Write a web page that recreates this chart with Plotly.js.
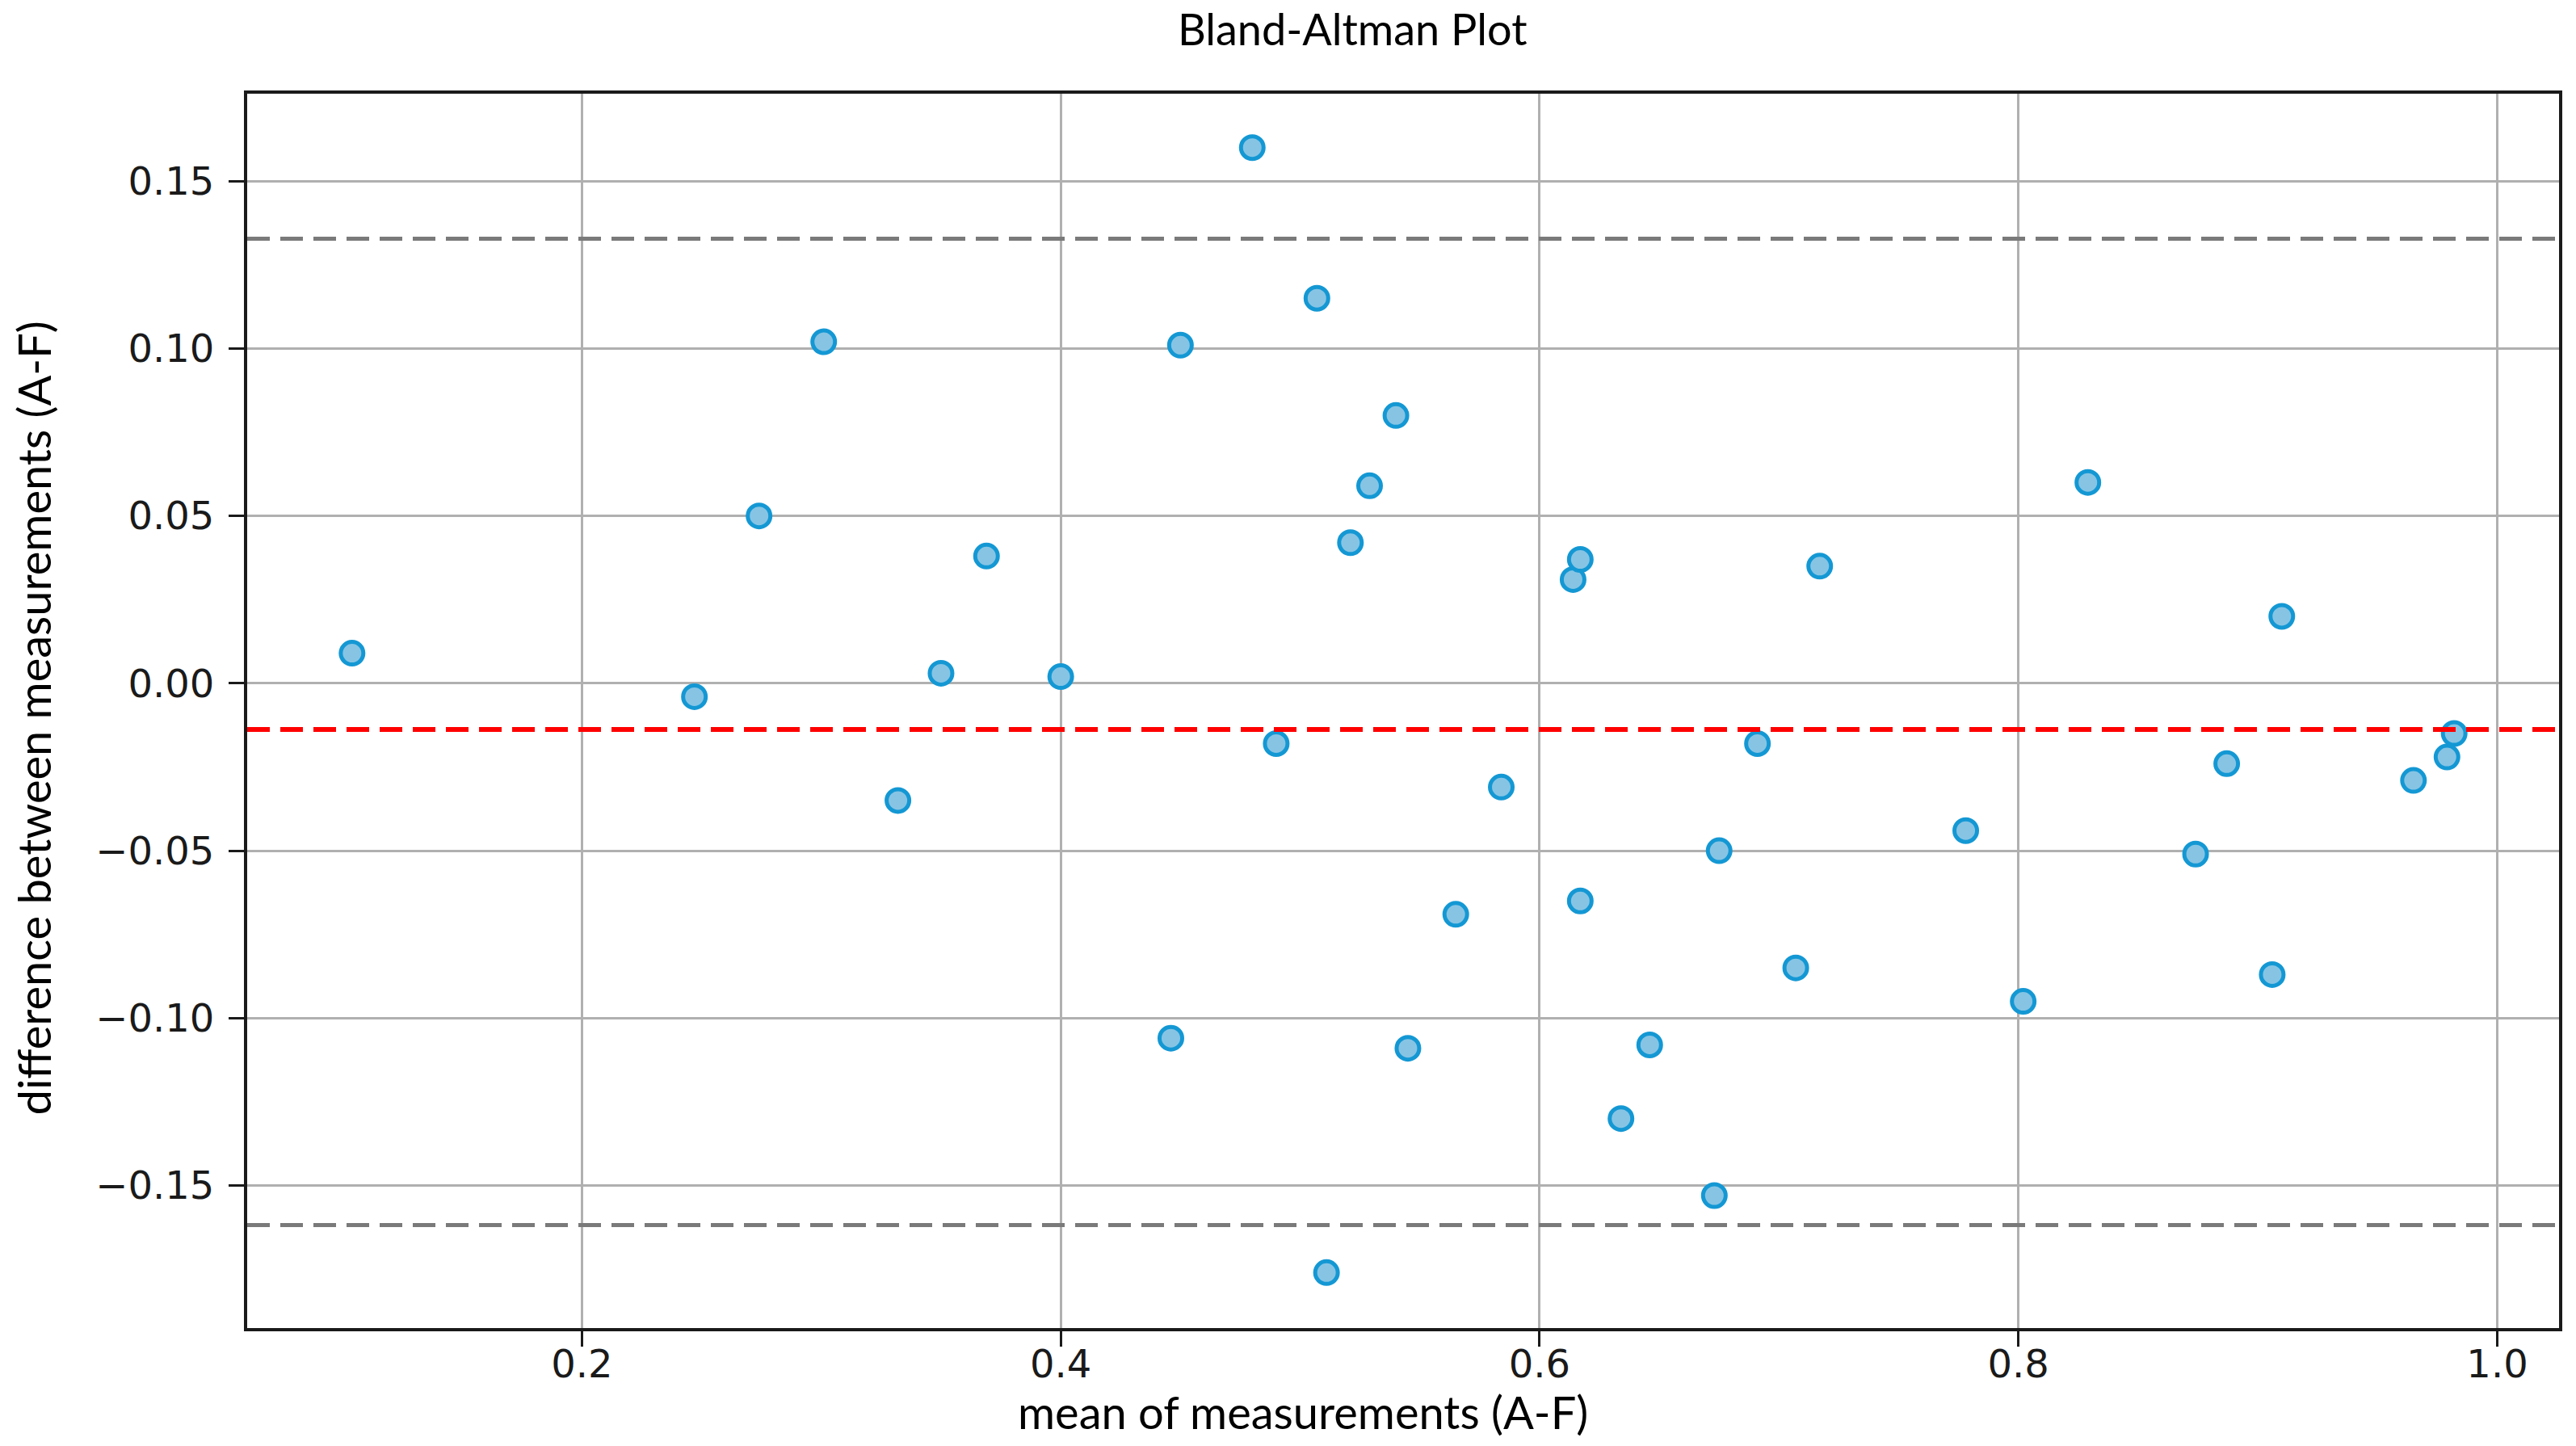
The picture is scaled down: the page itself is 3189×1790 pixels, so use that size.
<!DOCTYPE html>
<html>
<head>
<meta charset="utf-8">
<script src="https://cdn.plot.ly/plotly-3.0.1.min.js"></script>
<style>html,body{margin:0;padding:0;background:#fff;}#chart{width:3189px;height:1790px;}</style>
</head>
<body>
<div id="chart"></div>
<script>
// Mean of measurements (A-F)
const meanValues = [0.104, 0.247, 0.274, 0.301, 0.332, 0.350, 0.369, 0.400, 0.446, 0.450,
  0.480, 0.490, 0.507, 0.511, 0.521, 0.529, 0.540, 0.545, 0.565, 0.584,
  0.614, 0.617, 0.617, 0.634, 0.646, 0.673, 0.675, 0.691, 0.707, 0.717,
  0.778, 0.802, 0.829, 0.874, 0.887, 0.906, 0.910, 0.965, 0.979, 0.982];
// Difference between measurements (A-F)
const diffValues = [0.009, -0.004, 0.050, 0.102, -0.035, 0.003, 0.038, 0.002, -0.106, 0.101,
  0.160, -0.018, 0.115, -0.176, 0.042, 0.059, 0.080, -0.109, -0.069, -0.031,
  0.031, 0.037, -0.065, -0.130, -0.108, -0.153, -0.050, -0.018, -0.085, 0.035,
  -0.044, -0.095, 0.060, -0.051, -0.024, -0.087, 0.020, -0.029, -0.022, -0.015];
// Reference lines: mean difference and limits of agreement
const meanDiff = -0.0138;
const upperLoA = 0.1328;
const lowerLoA = -0.1618;

const tickFont = {family: 'DejaVu Sans', size: 48, color: '#1a1a1a'};
const labelFont = {family: 'Lato, Open Sans, sans-serif', size: 56, color: '#000'};

const trace = {
  x: meanValues, y: diffValues, type: 'scatter', mode: 'markers',
  marker: {size: 28, color: 'rgb(135,196,228)', line: {color: 'rgb(20,152,212)', width: 5}},
  hoverinfo: 'x+y', showlegend: false
};

function hline(y, color, width) {
  return {type: 'line', xref: 'paper', x0: 0, x1: 1, yref: 'y', y0: y, y1: y,
    line: {color: color, width: width, dash: '28px,13px'}, layer: 'above'};
}

const layout = {
  width: 3189, height: 1790,
  margin: {l: 306, r: 21, t: 116, b: 146},
  paper_bgcolor: '#fff', plot_bgcolor: '#fff',
  title: {text: 'Bland-Altman Plot', font: {family: 'Lato, Open Sans, sans-serif', size: 54, color: '#000'},
    x: 0.525, xref: 'container', xanchor: 'center', y: 1 - 37/1790, yref: 'container', yanchor: 'middle'},
  xaxis: {
    range: [0.0602, 1.0258], tick0: 0, dtick: 0.2, tickformat: '.1f',
    showgrid: true, gridcolor: '#b0b0b0', gridwidth: 3, zeroline: false,
    showline: true, linecolor: '#1a1a1a', linewidth: 4, mirror: true,
    ticks: 'outside', ticklen: 19, tickwidth: 3, tickcolor: '#1a1a1a',
    tickfont: tickFont, ticklabelstandoff: -20
  },
  yaxis: {
    range: [-0.19257, 0.1761], tick0: 0, dtick: 0.05, tickformat: '.2f',
    showgrid: true, gridcolor: '#b0b0b0', gridwidth: 3, zeroline: false,
    showline: true, linecolor: '#1a1a1a', linewidth: 4, mirror: true,
    ticks: 'outside', ticklen: 19, tickwidth: 3, tickcolor: '#1a1a1a',
    tickfont: tickFont, ticklabelstandoff: 8
  },
  shapes: [hline(upperLoA, '#7a7a7a', 5), hline(lowerLoA, '#7a7a7a', 5), hline(meanDiff, '#ff0000', 6)],
  annotations: [
    {text: 'mean of measurements (A-F)', xref: 'paper', yref: 'paper', x: 0.4567, y: -0.068,
      xanchor: 'center', yanchor: 'middle', showarrow: false, font: labelFont},
    {text: 'difference between measurements (A-F)', xref: 'paper', yref: 'paper', x: -0.0925, y: 0.494,
      xanchor: 'center', yanchor: 'middle', textangle: -90, showarrow: false, font: labelFont}
  ]
};

Plotly.newPlot('chart', [trace], layout, {displayModeBar: false, staticPlot: true});
</script>
</body>
</html>
